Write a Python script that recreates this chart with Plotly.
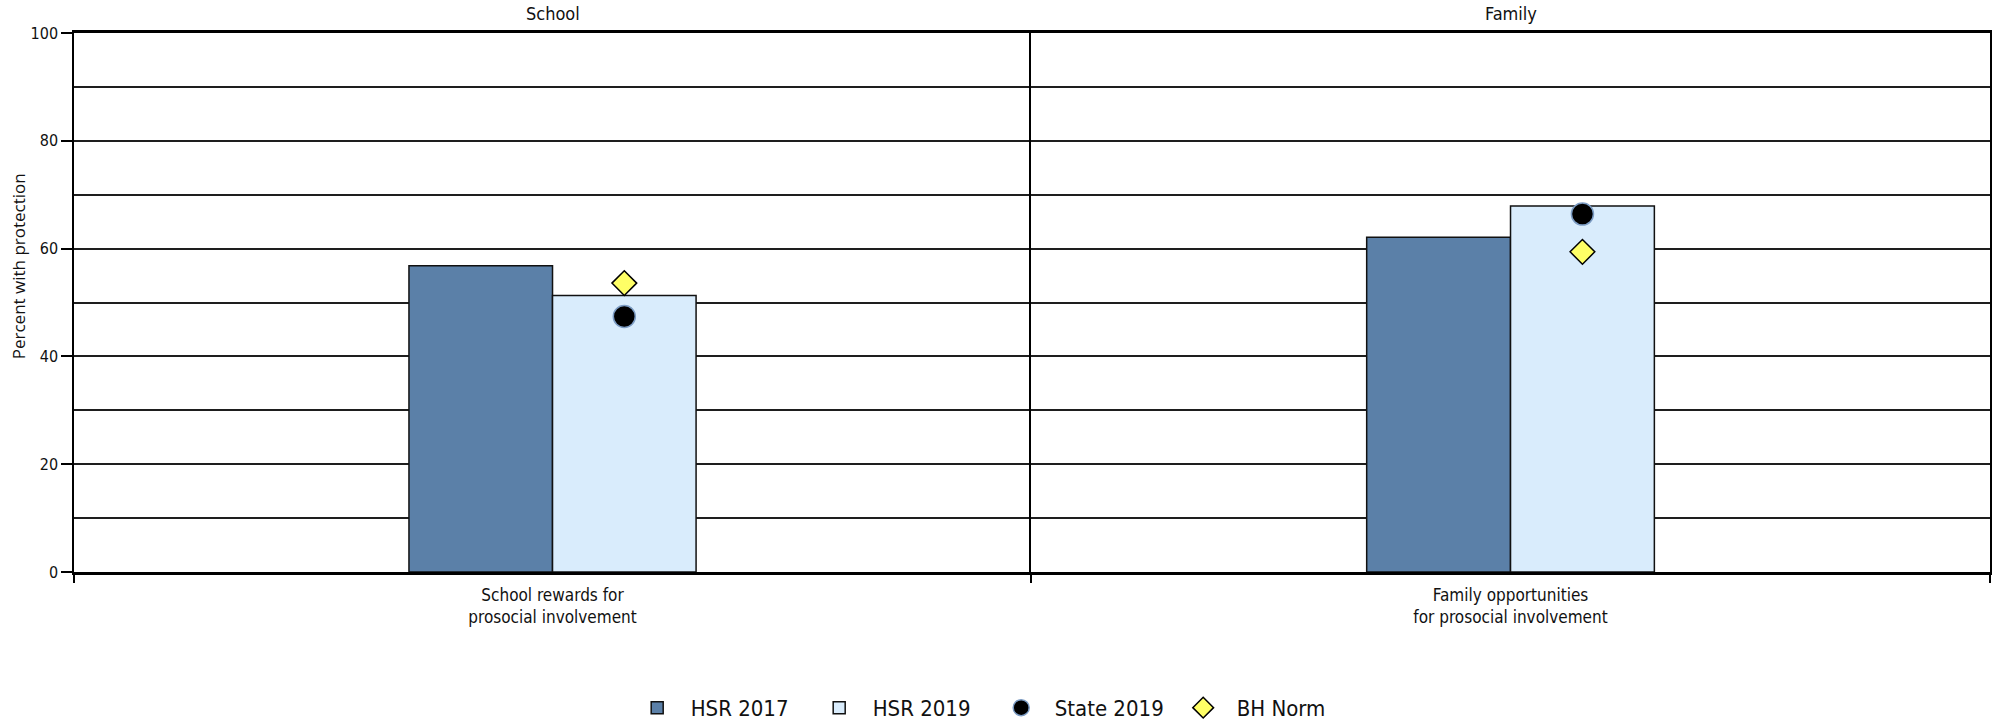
import plotly.graph_objects as go

# ---- data ----
facets = ["School", "Family"]
categories = ["School rewards for<br>prosocial involvement",
              "Family opportunities<br>for prosocial involvement"]
hsr_2017 = [56.8, 62.1]
hsr_2019 = [51.3, 67.9]
state_2019 = [47.4, 66.4]
bh_norm = [53.6, 59.4]
y_tick_vals = [0, 20, 40, 60, 80, 100]
y_tick_text = ["0", "20", "40", "60", "80", "100"]

# ---- styling ----
BAR_W = 0.15
COND = "DejaVu Sans, sans-serif"
C17 = "#5b80a8"
C19 = "#d9ecfc"
GRID = "#1e1e1e"
TXT = "#111111"

fig = go.Figure()
for i in range(2):
    xa = "x" if i == 0 else "x2"
    ya = "y" if i == 0 else "y2"
    show = i == 0
    fig.add_trace(go.Bar(x=[0], y=[hsr_2017[i]], width=BAR_W, offset=-BAR_W,
                         name="HSR 2017", legendgroup="a", showlegend=show,
                         marker=dict(color=C17, line=dict(color="#111", width=1.5)),
                         xaxis=xa, yaxis=ya))
    fig.add_trace(go.Bar(x=[0], y=[hsr_2019[i]], width=BAR_W, offset=0,
                         name="HSR 2019", legendgroup="b", showlegend=show,
                         marker=dict(color=C19, line=dict(color="#111", width=1.5)),
                         xaxis=xa, yaxis=ya))
    fig.add_trace(go.Scatter(x=[BAR_W / 2], y=[state_2019[i]], mode="markers",
                             name="State 2019", legendgroup="c", showlegend=show,
                             marker=dict(symbol="circle", size=22, color="black",
                                         line=dict(color="#7c9cc4", width=1.5)),
                             xaxis=xa, yaxis=ya))
    fig.add_trace(go.Scatter(x=[BAR_W / 2], y=[bh_norm[i]], mode="markers",
                             name="BH Norm", legendgroup="d", showlegend=show,
                             marker=dict(symbol="diamond", size=19, color="#ffff66",
                                         line=dict(color="black", width=1.5)),
                             xaxis=xa, yaxis=ya))

xcommon = dict(range=[-0.5, 0.5], tickvals=[0], ticks="", showgrid=False,
               zeroline=False, showline=True, mirror=True, linecolor="black",
               linewidth=2.5, tickfont=dict(family=COND, size=17, color=TXT),
               ticklabelstandoff=6, automargin=False,
               minor=dict(tickvals=[-0.5, 0.5], ticks="outside", ticklen=8,
                          tickwidth=1.5, tickcolor="black"),
               fixedrange=True)
ycommon = dict(range=[0, 100], tickvals=y_tick_vals, showgrid=True,
               gridcolor=GRID, gridwidth=1.5, zeroline=False, showline=True,
               linecolor="black", linewidth=1.5, automargin=False,
               minor=dict(dtick=10, showgrid=True, gridcolor=GRID, gridwidth=1.5),
               fixedrange=True)

fig.update_layout(
    width=1999, height=726,
    margin=dict(l=74, r=9, t=33, b=154),
    plot_bgcolor="white", paper_bgcolor="white",
    barmode="overlay",
    xaxis=dict(domain=[0, 0.4995], ticktext=[categories[0]], anchor="y", **xcommon),
    xaxis2=dict(domain=[0.4995, 1], ticktext=[categories[1]], anchor="y2", **xcommon),
    yaxis=dict(anchor="x", ticktext=y_tick_text, ticks="outside", ticklen=11,
               tickwidth=1.5, tickcolor="black", mirror=False,
               tickfont=dict(family=COND, size=16, color=TXT), **ycommon),
    yaxis2=dict(anchor="x2", matches="y", showticklabels=False, ticks="",
                mirror=True, **ycommon),
    legend=dict(orientation="h", xref="container", yref="container",
                x=0.312, xanchor="left", y=0.025, yanchor="middle",
                font=dict(family=COND, size=22, color=TXT),
                itemwidth=57, entrywidth=110, entrywidthmode="pixels",
                tracegroupgap=0),
    showlegend=True,
    annotations=[
        dict(text=facets[0], xref="paper", yref="paper", x=0.25, y=1.037,
             xanchor="center", yanchor="middle", showarrow=False,
             font=dict(family=COND, size=18, color=TXT)),
        dict(text=facets[1], xref="paper", yref="paper", x=0.75, y=1.037,
             xanchor="center", yanchor="middle", showarrow=False,
             font=dict(family=COND, size=18, color=TXT)),
        dict(text="Percent with protection", xref="paper", yref="paper",
             x=-0.029, y=0.568, xanchor="center", yanchor="middle",
             textangle=-90, showarrow=False,
             font=dict(family="Open Sans, sans-serif", size=17, color=TXT)),
    ],
)

post = """
document.body.style.margin='0';
document.body.style.overflow='hidden';
var gd = document.getElementsByClassName('plotly-graph-div')[0];
gd.querySelectorAll('text').forEach(function(t){
  var ff = (t.style.fontFamily || '');
  if (ff.indexOf('DejaVu') >= 0) { t.style.fontStretch = 'condensed'; }
});
"""
fig.write_html("out.html", config={"displayModeBar": False}, post_script=post)
